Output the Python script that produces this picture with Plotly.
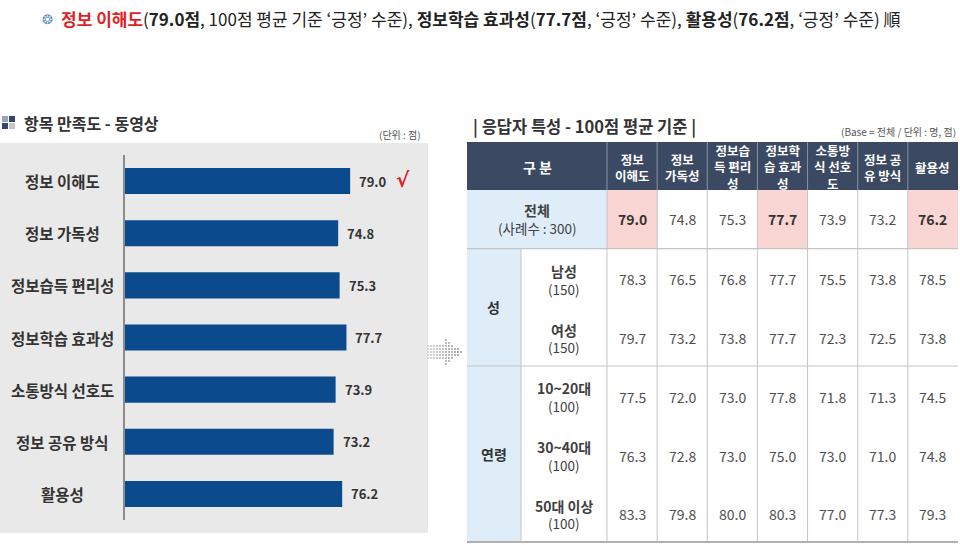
import plotly.graph_objects as go

# ---------------- data ----------------
categories = ['정보 이해도', '정보 가독성', '정보습득 편리성', '정보학습 효과성',
              '소통방식 선호도', '정보 공유 방식', '활용성']
scores = [79.0, 74.8, 75.3, 77.7, 73.9, 73.2, 76.2]

table_headers = ['정보<br>이해도', '정보<br>가독성', '정보습<br>득 편리<br>성', '정보학<br>습 효과<br>성',
                 '소통방<br>식 선호<br>도', '정보 공<br>유 방식', '활용성']
total_label = '전체'
total_n = '(사례수 : 300)'
total_vals = [79.0, 74.8, 75.3, 77.7, 73.9, 73.2, 76.2]
total_highlight = [True, False, False, True, False, False, True]

groups = ['성', '연령']
sub_labels = [['남성', '여성'], ['10~20대', '30~40대', '50대 이상']]
sub_ns = [['(150)', '(150)'], ['(100)', '(100)', '(100)']]
sub_vals = [
    [[78.3, 76.5, 76.8, 77.7, 75.5, 73.8, 78.5],
     [79.7, 73.2, 73.8, 77.7, 72.3, 72.5, 73.8]],
    [[77.5, 72.0, 73.0, 77.8, 71.8, 71.3, 74.5],
     [76.3, 72.8, 73.0, 75.0, 73.0, 71.0, 74.8],
     [83.3, 79.8, 80.0, 80.3, 77.0, 77.3, 79.3]],
]

# ---------------- layout helpers ----------------
W, H = 960, 545
FONT = 'Noto Sans CJK KR'


def px(x):
    return x / W


def py(y):
    return 1 - y / H


shapes = []
annotations = []


def rect(x0, y0, x1, y1, fill, line_w=0, line_c=None, layer='below'):
    shapes.append(dict(type='rect', xref='paper', yref='paper',
                       x0=px(x0), x1=px(x1), y0=py(y1), y1=py(y0),
                       fillcolor=fill, line=dict(width=line_w, color=line_c or fill),
                       layer=layer))


def line(x0, y0, x1, y1, color, width=1, layer='above'):
    shapes.append(dict(type='line', xref='paper', yref='paper',
                       x0=px(x0), x1=px(x1), y0=py(y0), y1=py(y1),
                       line=dict(color=color, width=width), layer=layer))


def text(x, y, t, size=13, color='#404040', xanchor='center', yanchor='middle', align='center'):
    annotations.append(dict(xref='paper', yref='paper', x=px(x), y=py(y), text=t,
                            showarrow=False, xanchor=xanchor, yanchor=yanchor, align=align,
                            font=dict(family=FONT, size=size, color=color)))


# ---------------- title line ----------------
q1, q2 = '\u2018', '\u2019'
title = ("<span style='color:#e31e24'><b>정보 이해도</b></span>(<b>79.0점</b>, 100점 평균 기준 "
         f"{q1}긍정{q2} 수준), <b>정보학습 효과성</b>(<b>77.7점</b>, {q1}긍정{q2} 수준), "
         f"<b>활용성</b>(<b>76.2점</b>, {q1}긍정{q2} 수준) 順")
text(59, 18, title, size=17, color='#222222', xanchor='left')
text(47, 18, '❂', size=13, color='#5b8fc7')

# ---------------- left panel ----------------
rect(0, 143, 428, 533, '#e9e9e9')
# icon
rect(2, 116, 8, 122, '#9aa6b8', layer='above')
rect(9, 116, 15, 122, '#34476a', layer='above')
rect(2, 123, 8, 129, '#34476a', layer='above')
rect(9, 123, 15, 129, '#c3c8d0', layer='above')
text(22, 123, '<b>항목 만족도 - 동영상</b>', size=16, color='#333333', xanchor='left')
text(423, 134, '(단위 : 점)', size=10, color='#555555', xanchor='right')

bar = go.Bar(x=scores, y=categories, orientation='h',
             marker=dict(color='#0b4a8c', line=dict(width=0)),
             hoverinfo='skip', showlegend=False)

for c, v in zip(categories, scores):
    annotations.append(dict(xref='x', yref='y', x=v, y=c, text=f'<b>{v:.1f}</b>',
                            showarrow=False, xanchor='left', xshift=7,
                            font=dict(family=FONT, size=13, color='#333333')))
    annotations.append(dict(xref='paper', yref='y', x=px(62), y=c, text=f'<b>{c}</b>',
                            showarrow=False, xanchor='center',
                            font=dict(family=FONT, size=15.5, color='#333333')))
best = scores.index(max(scores))
annotations.append(dict(xref='paper', yref='y', x=px(403), y=categories[best], text='<b>√</b>',
                        showarrow=False, xanchor='center', yshift=1,
                        font=dict(family='DejaVu Sans', size=20, color='#e31e24')))

# ---------------- arrow (dotted) ----------------
for i in range(12):
    for j in range(11):
        x = 428 + i * 3.0
        y = 337 + j * 3.0
        dy = abs(y - 352)
        inside = False
        if x <= 446 and dy <= 7:
            inside = True
        elif x > 444 and dy <= (462 - x) * 0.85:
            inside = True
        if inside:
            g = int(200 - (x - 428) * 2.2)
            col = f'rgb({g},{g},{g})'
            shapes.append(dict(type='circle', xref='paper', yref='paper',
                               x0=px(x - 0.9), x1=px(x + 0.9), y0=py(y + 0.9), y1=py(y - 0.9),
                               fillcolor=col, line=dict(width=0), layer='above'))

# ---------------- right table ----------------
text(471, 126, '<b>| 응답자 특성 - 100점 평균 기준 |</b>', size=16.5, color='#333333', xanchor='left')
text(958, 131, '(Base = 전체 / 단위 : 명, 점)', size=10, color='#555555', xanchor='right')

T_X0, GRP_X1, LAB_X1, T_X1 = 467, 521, 607, 958
HDR_Y0, HDR_Y1 = 142, 190
ncol = len(table_headers)
col_w = (T_X1 - LAB_X1) / ncol
nrows = 1 + sum(len(s) for s in sub_labels)
row_h = (542 - HDR_Y1) / nrows
NAVY = '#3b4a62'
LBLUE = '#dfedf9'
PINK = '#f9d6d4'
GRID = '#c4c4c4'

# header
rect(T_X0, HDR_Y0, T_X1, HDR_Y1, NAVY)
text((T_X0 + LAB_X1) / 2, (HDR_Y0 + HDR_Y1) / 2 + 1, '<b>구 분</b>', size=14, color='white')
for k, h in enumerate(table_headers):
    cx = LAB_X1 + (k + 0.5) * col_w
    text(cx, (HDR_Y0 + HDR_Y1) / 2 + 1, f'<b>{h}</b>', size=12.5, color='white')
    line(LAB_X1 + k * col_w, HDR_Y0, LAB_X1 + k * col_w, HDR_Y1, '#8793a6', 1)

# total row
ty0 = HDR_Y1
ty1 = ty0 + row_h
rect(T_X0, ty0, LAB_X1, ty1, LBLUE)
text((T_X0 + LAB_X1) / 2, (ty0 + ty1) / 2 - 9, f'<b>{total_label}</b>', size=14, color='#404040')
text((T_X0 + LAB_X1) / 2, (ty0 + ty1) / 2 + 9, total_n, size=13.5, color='#404040')
for k, v in enumerate(total_vals):
    cx = LAB_X1 + (k + 0.5) * col_w
    if total_highlight[k]:
        rect(LAB_X1 + k * col_w, ty0, LAB_X1 + (k + 1) * col_w, ty1, PINK)
        text(cx, (ty0 + ty1) / 2, f'<b>{v:.1f}</b>', size=14, color='#333333')
    else:
        text(cx, (ty0 + ty1) / 2, f'{v:.1f}', size=14, color='#505050')
line(T_X0, ty1, T_X1, ty1, GRID, 1.2)

# group rows
y = ty1
for g, labels, ns, vals in zip(groups, sub_labels, sub_ns, sub_vals):
    gy0 = y
    gy1 = y + row_h * len(labels)
    rect(T_X0, gy0, GRP_X1, gy1, LBLUE)
    text((T_X0 + GRP_X1) / 2, (gy0 + gy1) / 2, f'<b>{g}</b>', size=14, color='#333333')
    for r, (lab, n, rv) in enumerate(zip(labels, ns, vals)):
        cy = gy0 + (r + 0.5) * row_h + 1.5
        text((GRP_X1 + LAB_X1) / 2, cy - 8.5, f'<b>{lab}</b>', size=14, color='#404040')
        text((GRP_X1 + LAB_X1) / 2, cy + 9, n, size=13.5, color='#404040')
        for k, v in enumerate(rv):
            cx = LAB_X1 + (k + 0.5) * col_w
            text(cx, cy, f'{v:.1f}', size=14, color='#505050')
    y = gy1
    if g != groups[-1]:
        line(T_X0, gy1, T_X1, gy1, GRID, 1.2)
line(GRP_X1, ty1, GRP_X1, y, GRID, 1)
for k in range(ncol):
    xk = LAB_X1 + k * col_w
    line(xk, HDR_Y1, xk, y, GRID, 1)
line(T_X0, y, T_X1, y, '#b0b0b0', 2)

# ---------------- figure ----------------
fig = go.Figure(bar)
fig.update_layout(
    width=W, height=H,
    margin=dict(l=0, r=0, t=0, b=0),
    paper_bgcolor='white', plot_bgcolor='rgba(0,0,0,0)',
    bargap=0.5,
    xaxis=dict(domain=[px(125), px(125 + 100 * 2.85)], range=[0, 100], visible=False, fixedrange=True),
    yaxis=dict(domain=[py(520), py(155)], autorange='reversed', showticklabels=False,
               showgrid=False, zeroline=False, showline=True, linecolor='#8c8c8c', linewidth=1.5,
               ticks='', fixedrange=True),
    shapes=shapes, annotations=annotations,
    font=dict(family=FONT),
)
fig.write_html('out.html')
